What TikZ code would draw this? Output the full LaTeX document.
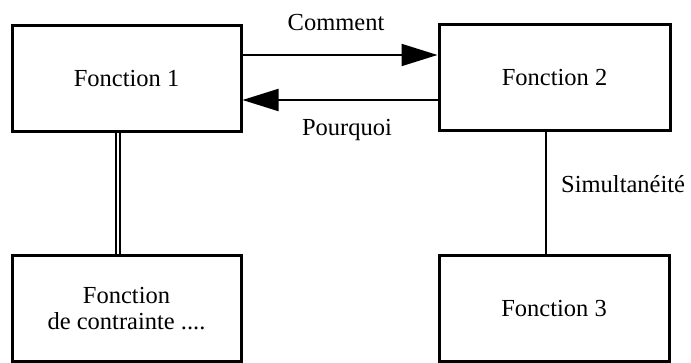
\documentclass[tikz,border=0pt]{standalone}
\usepackage{fontspec}
\setmainfont{Liberation Serif}
\usetikzlibrary{arrows.meta}
\begin{document}
\begin{tikzpicture}[x=1pt,y=-1pt,
  fbox/.style={draw,line width=3pt,minimum width=229pt,minimum height=106pt,inner sep=0pt,align=center,font=\fontsize{24.5}{30}\selectfont},
  lbl/.style={inner sep=0pt,font=\fontsize{24.5}{30}\selectfont},
  conn/.style={line width=2pt},
  arr/.style={conn,-{Triangle[length=36pt,width=22pt]}}]
\useasboundingbox (0,0) rectangle (691,363);
\node[fbox] (f1) at (126.5,78.5) {Fonction 1};
\node[fbox,minimum width=231pt] (f2) at (554.5,78) {Fonction 2};
\node[fbox,minimum height=106pt] (fc) at (126.5,309) {Fonction\\[-4pt]de contrainte ....};
\node[fbox,minimum width=230pt,minimum height=106pt] (f3) at (554,309) {Fonction 3};
\draw[arr] ([yshift=23.5pt]f1.east) -- ([yshift=23pt]f2.west);
\draw[arr] ([yshift=-22pt]f2.west) -- ([yshift=-21.5pt]f1.east);
\draw[double,double distance=2.5pt,line width=1.8pt] (f1.south -| 118,0) -- (fc.north -| 118,0);
\draw[conn] (f2.south -| 546,0) -- (f3.north -| 546,0);
\node[lbl] (lc) at (336,23) {Comment};
\node[lbl] (lp) at (347,130) {Pourquoi};
\node[lbl,anchor=west] (ls) at (561,184) {Simultanéité};
\end{tikzpicture}
\end{document}
